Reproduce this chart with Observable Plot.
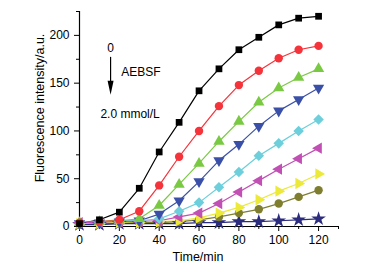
<!DOCTYPE html>
<html>
<head>
<meta charset="utf-8">
<script src="https://cdn.jsdelivr.net/npm/d3@7"></script>
<script src="https://cdn.jsdelivr.net/npm/@observablehq/plot@0.6"></script>
<style>
  html, body { margin: 0; padding: 0; background: #fff; }
  #chart svg { display: block; }
</style>
</head>
<body>
<div id="chart"></div>
<script>
// ---- data ----
const times = [0, 10, 20, 30, 40, 50, 60, 70, 80, 90, 100, 110, 120];
const seriesNames = ["s1", "s2", "s3", "s4", "s5", "s6", "s7", "s8", "s9"];
const s1 = [3, 7, 15, 40, 78, 109, 142, 165, 185, 198, 211, 218, 220];
const s2 = [4, 5, 7, 16, 43, 73, 100, 126, 148, 163, 176, 185, 189];
const s3 = [4, 5, 6, 8, 22, 44, 66, 89, 110, 130, 145, 156, 165];
const s4 = [3, 4, 5, 6, 13, 27, 47, 69, 86, 105, 121, 133, 145];
const s5 = [3, 4, 5, 6, 8, 16, 25, 41, 57, 74, 87, 100, 112];
const s6 = [4, 4, 5, 5, 6, 10, 14, 24, 36, 48, 60, 71, 82];
const s7 = [3, 3, 4, 4, 5, 6, 9, 14, 20, 28, 37, 45, 55];
const s8 = [2, 3, 3, 4, 4, 5, 7, 10, 14, 18, 24, 31, 38];
const s9 = [2, 2, 3, 3, 3, 3, 4, 4, 5, 5, 6, 7, 8];
const seriesValues = [s1, s2, s3, s4, s5, s6, s7, s8, s9];
const seriesColors = ["#000000", "#f5333a", "#7ac943", "#3a50a8", "#6ccfdb", "#c14fb4", "#ece93a", "#7e7e2e", "#2c2c7e"];
const seriesSymbolNames = ["square", "circle", "triangleUp", "triangleDown", "diamond", "triangleLeft", "triangleRight", "circle", "star"];

const xTicks = [0, 20, 40, 60, 80, 100, 120];
const xMinorTicks = [10, 30, 50, 70, 90, 110, 130];
const yTicks = [0, 50, 100, 150, 200];
const yMinorTicks = [25, 75, 125, 175, 225];
const xLabel = "Time/min";
const yLabel = "Fluorescence intensity/a.u.";

// annotation (data units)
const annoTexts = [
  {text: "0", x: 15.6, y: 187, anchor: "middle"},
  {text: "AEBSF", x: 21, y: 161, anchor: "start"},
  {text: "2.0 mmol/L", x: 10.5, y: 118, anchor: "start"}
];
const annoArrow = [{x: 15.6, y1: 177, y2: 138}];

// ---- custom symbols ----
const sq3 = Math.sqrt(3);
function tri(rot) {
  return {
    draw(ctx, size) {
      const y = -Math.sqrt(size / (sq3 * 3));
      const pts = [[0, y * 2], [-sq3 * y, -y], [sq3 * y, -y]];
      const c = Math.cos(rot), s = Math.sin(rot);
      pts.forEach(([px, py], i) => {
        const rx = px * c - py * s, ry = px * s + py * c;
        if (i === 0) ctx.moveTo(rx, ry); else ctx.lineTo(rx, ry);
      });
      ctx.closePath();
    }
  };
}
const diamondSym = {
  draw(ctx, size) {
    const r = Math.sqrt(size / 2) ;
    ctx.moveTo(0, -r); ctx.lineTo(r, 0); ctx.lineTo(0, r); ctx.lineTo(-r, 0); ctx.closePath();
  }
};
const arrowHead = {
  draw(ctx, size) {
    ctx.moveTo(0, 0); ctx.lineTo(-3, -14); ctx.lineTo(3, -14); ctx.closePath();
  }
};
const symbolMap = {
  square: d3.symbolSquare,
  circle: d3.symbolCircle,
  triangleUp: tri(0),
  triangleDown: tri(Math.PI),
  triangleLeft: tri(-Math.PI / 2),
  triangleRight: tri(Math.PI / 2),
  diamond: diamondSym,
  star: d3.symbolStar
};

const rows = [];
seriesValues.forEach((vals, i) => {
  vals.forEach((v, j) => rows.push({series: seriesNames[i], t: times[j], v, idx: i}));
});

const font = "'Liberation Sans', Arial, sans-serif";

const marks = [];
seriesValues.forEach((vals, i) => {
  const data = rows.filter(d => d.idx === i);
  marks.push(Plot.line(data, {x: "t", y: "v", stroke: seriesColors[i], strokeWidth: 1.2}));
});
for (let i = seriesValues.length - 1; i >= 0; i--) {
  const data = rows.filter(d => d.idx === i);
  const symName = seriesSymbolNames[i];
  const r = symName === "star" ? 4.6 : symName === "square" ? 3.8 : 4.2;
  marks.push(Plot.dot(data, {x: "t", y: "v", fill: seriesColors[i], stroke: "none", r, symbol: () => symbolMap[symName]}));
}

const chart = Plot.plot({
  width: 377,
  height: 271,
  marginLeft: 79,
  marginRight: 39,
  marginTop: 11,
  marginBottom: 45,
  style: {fontFamily: font, fontSize: "11px", color: "#000", background: "#fff", overflow: "visible"},
  x: {domain: [0, 130]},
  y: {domain: [0, 225]},
  marks: [
    Plot.axisX({ticks: xTicks, tickSize: 5, tickPadding: 4, label: null, fontSize: 12}),
    Plot.axisX({ticks: xMinorTicks, tickSize: 3, tickFormat: () => "", label: null}),
    Plot.axisY({ticks: yTicks, tickSize: 5, tickPadding: 5, label: null, fontSize: 12}),
    Plot.axisY({ticks: yMinorTicks, tickSize: 3, tickFormat: () => "", label: null}),
    Plot.ruleX([0], {stroke: "#000", strokeWidth: 1.2}),
    Plot.ruleY([0], {stroke: "#000", strokeWidth: 1.2}),
    ...marks,
    Plot.text([xLabel], {frameAnchor: "bottom", textAnchor: "middle", dx: -11, dy: 34, text: d => d, fontSize: 12.5, fill: "#000"}),
    Plot.text([yLabel], {frameAnchor: "left", textAnchor: "middle", lineAnchor: "middle", rotate: -90, dx: -40, dy: -11, text: d => d, fontSize: 12.5, fill: "#000"}),
    Plot.text(annoTexts.filter(d => d.anchor === "middle"), {x: "x", y: "y", text: "text", textAnchor: "middle", fontSize: 12, fill: "#000"}),
    Plot.text(annoTexts.filter(d => d.anchor === "start"), {x: "x", y: "y", text: "text", textAnchor: "start", fontSize: 12, fill: "#000"}),
    Plot.ruleX(annoArrow, {x: "x", y1: "y1", y2: d => d.y2 + 10, stroke: "#000", strokeWidth: 1.2}),
    Plot.dot(annoArrow, {x: "x", y: "y2", fill: "#000", stroke: "none", symbol: () => arrowHead})
  ]
});
document.getElementById("chart").appendChild(chart);
</script>
</body>
</html>
